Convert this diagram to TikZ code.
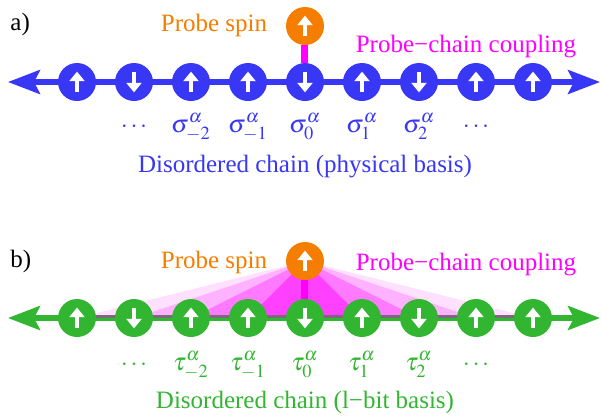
\documentclass[tikz,border=0pt]{standalone}
\usepackage{mathptmx}
\usepackage[no-math]{fontspec}
\setmainfont{Liberation Serif}
\newfontfamily\chainfont{Liberation Serif}
\usetikzlibrary{arrows.meta}
\definecolor{chainblue}{RGB}{55,55,245}
\definecolor{chaingreen}{RGB}{50,182,50}
\definecolor{probeorange}{RGB}{245,125,0}
\definecolor{coupmag}{RGB}{255,0,255}
\definecolor{fanedge}{RGB}{125,105,125}
\tikzset{
  spin/.style={circle,inner sep=0pt,minimum size=19pt},
  spinarrow/.style={white,line width=1.7pt,-{Triangle[length=4.8pt,width=7.5pt]}},
  chainline/.style={line width=2.6pt,{Stealth[length=16pt,width=12pt,inset=3pt]}-{Stealth[length=16pt,width=12pt,inset=3pt]}},
  coupling/.style={coupmag,line width=3.5pt},
  lbl/.style={anchor=base,inner sep=0pt}
}
\begin{document}
\begin{tikzpicture}[x=0.5pt,y=-0.5pt,font=\chainfont\fontsize{12.5}{15}\selectfont]
  \useasboundingbox (0,0) rectangle (602,419);
  % a) physical basis
  \node[lbl,anchor=base west] (labela) at (10,30) {a)};
  \coordinate (aL) at (8,82);
  \coordinate (aR) at (600,82);
  \draw[chainline,chainblue] (aL) -- (aR);
  \node[spin,fill=probeorange] (pa) at (305,26) {};
  \foreach \i/\s in {-4/1,-3/-1,-2/1,-1/1,0/-1,1/1,2/-1,3/1,4/1}{
    \node[spin,fill=chainblue] (a\i) at (305+57*\i,82) {};
    \draw[spinarrow] ([yshift=\s*-5.2pt]a\i.center) -- ([yshift=\s*5.2pt]a\i.center);
  }
  \draw[coupling] (pa) -- (a0);
  \draw[spinarrow] ([yshift=-5.2pt]pa.center) -- ([yshift=5.2pt]pa.center);
  \node[lbl,probeorange] (probea) at (214,31.5) {Probe spin};
  \node[lbl,coupmag] (coupa) at (466,52) {Probe−chain coupling};
  \node[lbl,chainblue] (sam3) at (134,132) {$\cdots$};
  \node[lbl,chainblue] (sam2) at (191,132) {$\sigma^{\alpha}_{-2}$};
  \node[lbl,chainblue] (sam1) at (248,132) {$\sigma^{\alpha}_{-1}$};
  \node[lbl,chainblue] (sa0) at (305,132) {$\sigma^{\alpha}_{0}$};
  \node[lbl,chainblue] (sa1) at (362,132) {$\sigma^{\alpha}_{1}$};
  \node[lbl,chainblue] (sa2) at (419,132) {$\sigma^{\alpha}_{2}$};
  \node[lbl,chainblue] (sa3) at (476,132) {$\cdots$};
  \node[lbl,chainblue] (namea) at (305,172) {Disordered chain (physical basis)};

  % b) l-bit basis
  \node[lbl,anchor=base west] (labelb) at (10,267) {b)};
  \coordinate (bL) at (8,318);
  \coordinate (bR) at (600,318);
  \coordinate (pbc) at (305,261);
  \foreach \i in {-4,...,4}
    \coordinate (c\i) at (305+57*\i,318);
  \foreach \k/\c in {4/12,3/30,2/52,1/75}
    \fill[coupmag!\c] (pbc) -- (c-\k) -- (c\k) -- cycle;
  \draw[chainline,chaingreen] (bL) -- (bR);
  \draw[line width=1.3pt,fanedge] ([yshift=0.65pt]c-4) -- ([yshift=0.65pt]c4);
  \node[spin,fill=probeorange] (pb) at (pbc) {};
  \foreach \i/\s in {-4/1,-3/-1,-2/1,-1/1,0/-1,1/1,2/-1,3/1,4/1}{
    \node[spin,fill=chaingreen] (b\i) at (c\i) {};
    \draw[spinarrow] ([yshift=\s*-5.2pt]b\i.center) -- ([yshift=\s*5.2pt]b\i.center);
  }
  \draw[coupling] (pb) -- (b0);
  \draw[spinarrow] ([yshift=-5.2pt]pb.center) -- ([yshift=5.2pt]pb.center);
  \node[lbl,probeorange] (probeb) at (214,268) {Probe spin};
  \node[lbl,coupmag] (coupb) at (466,270) {Probe−chain coupling};
  \node[lbl,chaingreen] (tbm3) at (134,370) {$\cdots$};
  \node[lbl,chaingreen] (tbm2) at (191,370) {$\tau^{\alpha}_{-2}$};
  \node[lbl,chaingreen] (tbm1) at (248,370) {$\tau^{\alpha}_{-1}$};
  \node[lbl,chaingreen] (tb0) at (305,370) {$\tau^{\alpha}_{0}$};
  \node[lbl,chaingreen] (tb1) at (362,370) {$\tau^{\alpha}_{1}$};
  \node[lbl,chaingreen] (tb2) at (419,370) {$\tau^{\alpha}_{2}$};
  \node[lbl,chaingreen] (tb3) at (476,370) {$\cdots$};
  \node[lbl,chaingreen] (nameb) at (305,408) {Disordered chain (l−bit basis)};
\end{tikzpicture}
\end{document}
